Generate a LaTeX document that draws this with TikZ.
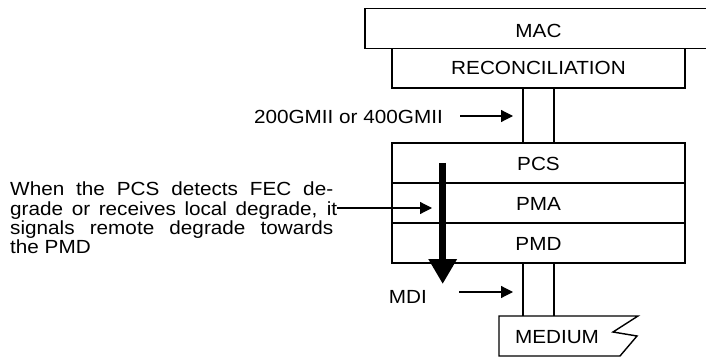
\documentclass[tikz,border=0pt]{standalone}
\usepackage{fontspec}
\setmainfont{Liberation Sans}[FakeStretch=1.09]
\usetikzlibrary{arrows.meta,calc}
\begin{document}
\begin{tikzpicture}[x=1pt,y=-1pt,
  every node/.style={font=\fontsize{19}{20}\selectfont},
  layer/.style={draw,line width=1.4pt,minimum width=293pt,minimum height=40pt,inner sep=0pt,outer sep=0pt,anchor=north west},
  txt/.style={inner sep=0pt},
  thin arrow/.style={line width=1.2pt,-{Triangle[length=12pt,width=12pt]}},
  wire/.style={line width=1.4pt}]
\useasboundingbox (0,0) rectangle (706,358);
% MAC (right edge off the page)
\node[layer,minimum width=347pt] (mac) at (365,8.5) {};
\node[txt] at (538.5,30.5) {MAC};
\node[layer,minimum height=39.5pt] (rs) at (392,48.5) {};
\node[txt] at (538.5,68) {RECONCILIATION};
% stack
\node[layer] (pcs) at (392,143) {};
\node[layer] (pma) at (392,183) {};
\node[layer] (pmd) at (392,223) {};
\node[txt] at (538.5,164) {PCS};
\node[txt] at (538.5,204) {PMA};
\node[txt] at (538.5,244) {PMD};
% wires RS - PCS
\coordinate (wl) at (523,0);
\coordinate (wr) at (554,0);
\draw[wire] (rs.south -| wl) -- (pcs.north -| wl);
\draw[wire] (rs.south -| wr) -- (pcs.north -| wr);
% medium
\coordinate (medl) at (523,316);
\coordinate (medr) at (554,316);
\draw[line width=1.4pt,line join=miter] (499,316) -- (638,316) -- (613,332) -- (637,336) -- (620,356) -- (499,356) -- cycle;
\node[txt] (medium) at (557,337) {MEDIUM};
\draw[wire] (pmd.south -| medl) -- (medl);
\draw[wire] (pmd.south -| medr) -- (medr);
% GMII label
\node[txt,anchor=east] (gmii) at (443,117) {200GMII or 400GMII};
\coordinate (gmiitip) at (513,116);
\draw[thin arrow] ([xshift=17pt,yshift=1pt]gmii.east) -- (gmiitip);
% MDI label
\node[txt,anchor=east] (mdi) at (427,297) {MDI};
\coordinate (mditip) at (513,292);
\draw[thin arrow] ([xshift=32pt,yshift=5pt]mdi.east) -- (mditip);
% thick arrow
\coordinate (dtop) at (442.7,163);
\coordinate (dbot) at (442.7,284);
\draw[line width=7pt,-{Triangle[length=25pt,width=27pt]}] (dtop) -- (dbot);
% description text
\node[txt,anchor=base west] (t1) at (10,195.9) {\makebox[323pt][s]{When the PCS detects FEC de-}};
\node[txt,anchor=base west] (t2) at (10,215.2) {\makebox[327pt][s]{grade or receives local degrade, it}};
\node[txt,anchor=base west] (t3) at (10,234.5) {\makebox[323pt][s]{signals remote degrade towards}};
\node[txt,anchor=base west] (t4) at (10,253.8) {the PMD};
\coordinate (pmatip) at (432,208);
\draw[thin arrow] (t2.east |- pmatip) -- (pmatip);
\end{tikzpicture}
\end{document}
